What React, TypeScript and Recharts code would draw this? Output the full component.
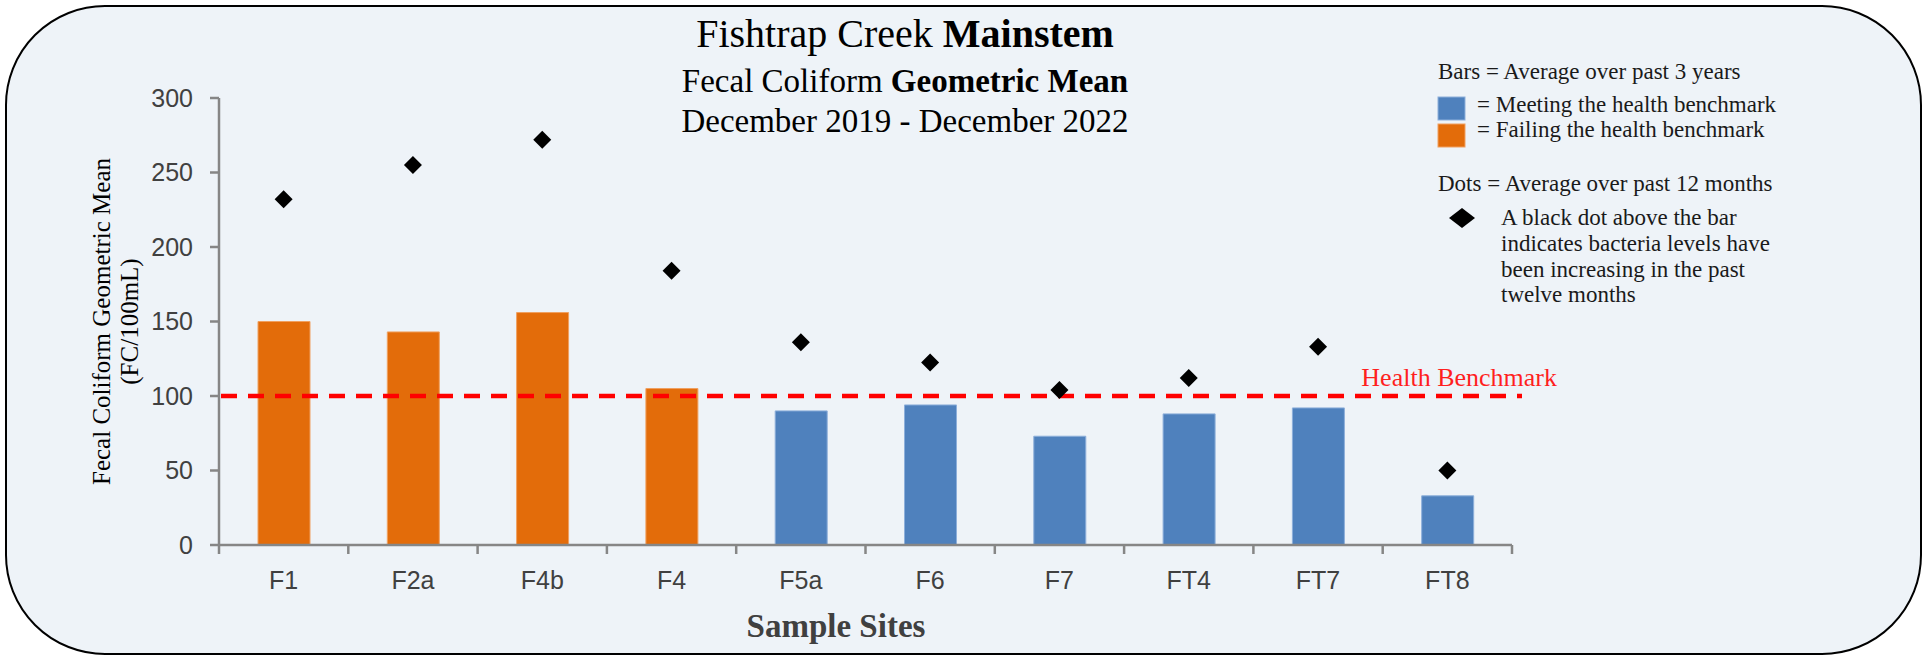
import React from "react"
import { ComposedChart, Bar, Cell, Scatter, XAxis, YAxis, ReferenceLine } from "recharts"

// Sample sites and their geometric means (FC/100mL)
const sites = ["F1", "F2a", "F4b", "F4", "F5a", "F6", "F7", "FT4", "FT7", "FT8"]
const threeYearMean = [150, 143, 156, 105, 90, 94, 73, 88, 92, 33]
const twelveMonthMean = [232, 255, 272, 184, 136, 122.5, 104, 112, 133, 50]
const yTicks = [0, 50, 100, 150, 200, 250, 300]
const benchmark = 100

const BLUE = "#4F81BD"
const ORANGE = "#E36C0A"
const AXIS = "#868686"
const SERIF = "'Liberation Serif', 'Times New Roman', serif"
const SANS = "'Liberation Sans', Arial, sans-serif"

const data = sites.map((site, i) => ({ site, bar: threeYearMean[i], dot: twelveMonthMean[i] }))

// Black diamond marker for the 12 month average
const Diamond = (props: any) => {
  const { cx, cy } = props
  if (cx == null || cy == null) return null
  const r = 9
  return <polygon points={`${cx},${cy - r} ${cx + r},${cy} ${cx},${cy + r} ${cx - r},${cy}`} fill="#000" />
}

// Excel style category tick: label centered, tick marks on band edges
const SiteTick = (props: any) => {
  const { x, y, payload, index } = props
  const half = payload?.offset || 64.65
  return (
    <g>
      <line x1={x - half} y1={y} x2={x - half} y2={y + 9} stroke={AXIS} strokeWidth={2.5} />
      {index === sites.length - 1 && (
        <line x1={x + half} y1={y} x2={x + half} y2={y + 9} stroke={AXIS} strokeWidth={2.5} />
      )}
      <text x={x} y={y + 44} textAnchor="middle" fill="#404040" fontSize={25} fontFamily={SANS}>
        {payload.value}
      </text>
    </g>
  )
}

const YLabel = (props: any) => {
  const vb = props.viewBox || { x: 119, y: 98, width: 100, height: 447 }
  const right = vb.x + vb.width
  const cy = vb.y + vb.height / 2
  return (
    <g fontFamily={SERIF} fontSize={25} fill="#000" textAnchor="middle">
      <text transform={`translate(${right - 109},${cy}) rotate(-90)`}>Fecal Coliform Geometric Mean</text>
      <text transform={`translate(${right - 81},${cy}) rotate(-90)`}>(FC/100mL)</text>
    </g>
  )
}

const BenchmarkLine = (props: any) => {
  const { x1, y1, x2, y2 } = props
  return <line x1={x1 + 2} y1={y1} x2={x2 + 10} y2={y2} stroke="#FF0000" strokeWidth={4.5} strokeDasharray="16 11" />
}

const BenchmarkLabel = (props: any) => {
  const vb = props.viewBox || { x: 219, y: 396, width: 1293 }
  return (
    <text x={vb.x + vb.width + 45} y={vb.y - 10} textAnchor="end" fill="#FF1F1F" fontSize={26} fontFamily={SERIF}>
      Health Benchmark
    </text>
  )
}

export default function App() {
  return (
    <div style={{ position: "absolute", left: 0, top: 0, width: 1931, height: 658, background: "#fff" }}>
      <div
        style={{
          position: "absolute",
          left: 5,
          top: 5,
          width: 1917,
          height: 650,
          boxSizing: "border-box",
          border: "2.5px solid #000",
          borderRadius: 100,
          background: "#EEF3F8",
        }}
      />
      <div style={{ position: "absolute", left: 0, top: 0 }}>
        <ComposedChart width={1931} height={658} data={data} margin={{ top: 98, right: 419, bottom: 53, left: 119 }}>
          <XAxis
            dataKey="site"
            interval={0}
            height={60}
            tickSize={0}
            tickMargin={0}
            tickLine={false}
            axisLine={{ stroke: AXIS, strokeWidth: 2.5 }}
            tick={<SiteTick />}
          />
          <YAxis
            domain={[0, 300]}
            ticks={yTicks}
            width={100}
            tickSize={9}
            tickMargin={17}
            axisLine={{ stroke: AXIS, strokeWidth: 2.5 }}
            tickLine={{ stroke: AXIS, strokeWidth: 2.5 }}
            tick={{ fill: "#404040", fontSize: 25, fontFamily: SANS }}
            label={<YLabel />}
          />
          <Bar dataKey="bar" barSize={52} isAnimationActive={false}>
            {data.map((d) => (
              <Cell
                key={d.site}
                fill={d.bar > benchmark ? ORANGE : BLUE}
                stroke={d.bar > benchmark ? "#F0A060" : "#8DAFDA"}
                strokeWidth={1}
              />
            ))}
          </Bar>
          <ReferenceLine y={benchmark} shape={<BenchmarkLine />} label={<BenchmarkLabel />} />
          <Scatter dataKey="dot" shape={<Diamond />} isAnimationActive={false} />
        </ComposedChart>
      </div>
      <svg
        width={1931}
        height={658}
        style={{ position: "absolute", left: 0, top: 0, pointerEvents: "none" }}
        fontFamily={SERIF}
      >
        <g textAnchor="middle" fill="#000">
          <text x={905} y={47} fontSize={40}>
            Fishtrap Creek <tspan fontWeight="bold">Mainstem</tspan>
          </text>
          <text x={905} y={92} fontSize={33}>
            Fecal Coliform <tspan fontWeight="bold">Geometric Mean</tspan>
          </text>
          <text x={905} y={132} fontSize={33}>
            December 2019 - December 2022
          </text>
        </g>
        <text x={836} y={637} textAnchor="middle" fontSize={33} fontWeight="bold" fill="#404040">
          Sample Sites
        </text>
        <g fontSize={23} fill="#1a1a1a">
          <text x={1438} y={79}>Bars = Average over past 3 years</text>
          <rect x={1438} y={97} width={27} height={23} fill={BLUE} stroke="#8DAFDA" strokeWidth={1} />
          <rect x={1438} y={124} width={27} height={23} fill={ORANGE} stroke="#F0A060" strokeWidth={1} />
          <text x={1477} y={112}>= Meeting the health benchmark</text>
          <text x={1477} y={137}>= Failing the health benchmark</text>
          <text x={1438} y={191}>Dots = Average over past 12 months</text>
          <polygon points="1462,208 1475,218 1462,228 1449,218" fill="#000" />
          <text x={1501} y={225}>A black dot above the bar</text>
          <text x={1501} y={251}>indicates bacteria levels have</text>
          <text x={1501} y={277}>been increasing in the past</text>
          <text x={1501} y={302}>twelve months</text>
        </g>
      </svg>
    </div>
  )
}
